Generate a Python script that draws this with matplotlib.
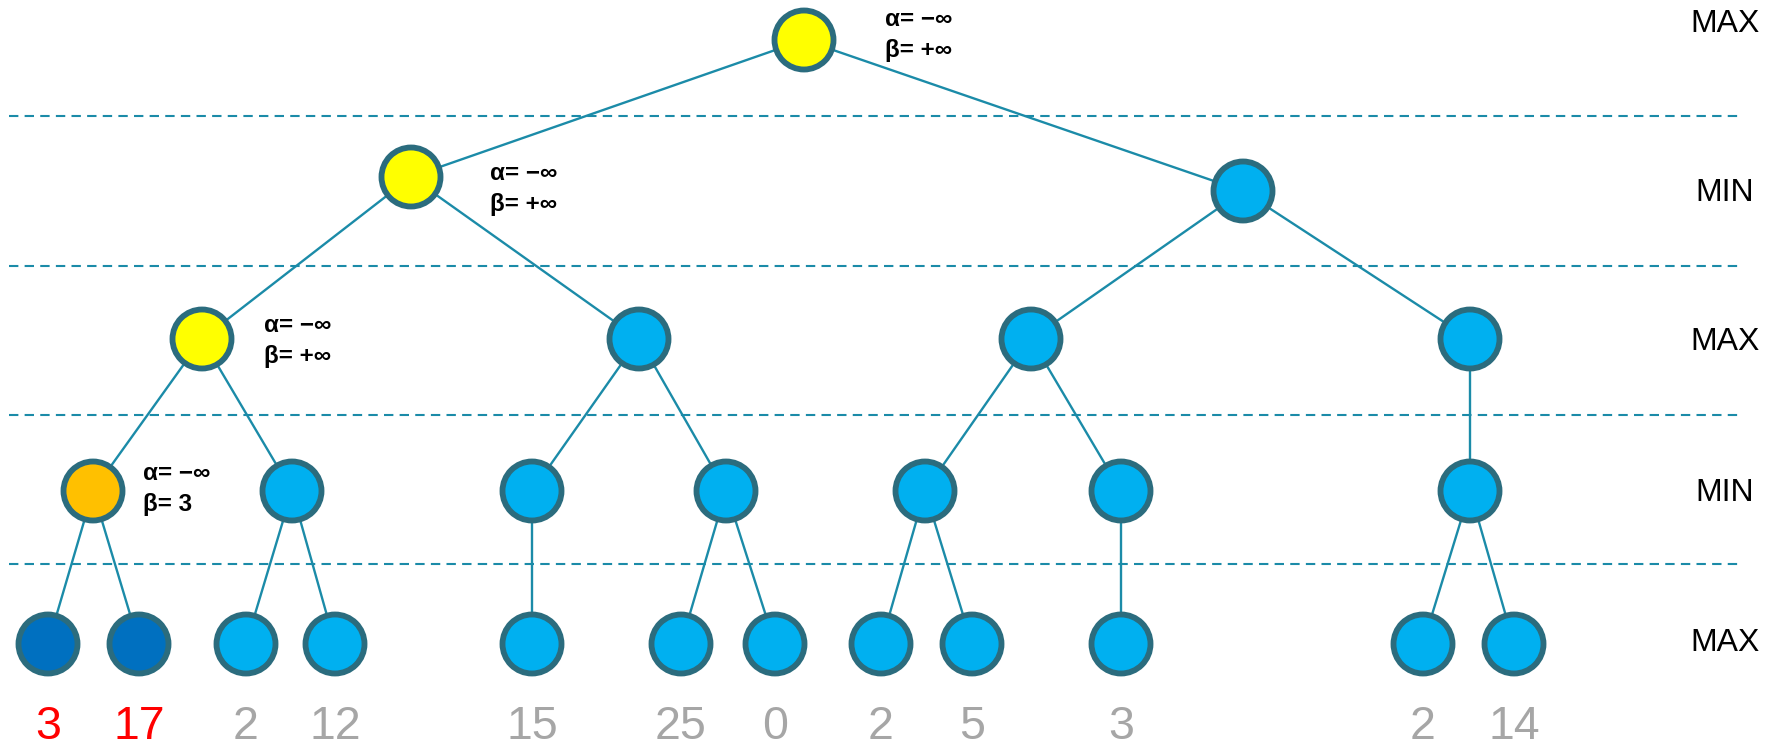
import matplotlib.pyplot as plt
from matplotlib.patches import Circle

plt.rcParams['font.family'] = ['Liberation Sans', 'DejaVu Sans']

## tree data: levels, node kinds, leaf values
level_labels = ['MAX', 'MIN', 'MAX', 'MIN', 'MAX']
leaf_values = [3, 17, 2, 12, 15, 25, 0, 2, 5, 3, 2, 14]
leaf_colors = ['red', 'red'] + ['gray'] * 10
# parent index (within previous level) for each node of a level
parents = [
    [],
    [0, 0],
    [0, 0, 1, 1],
    [0, 0, 1, 1, 2, 2, 3],
    [0, 0, 1, 1, 2, 3, 3, 4, 4, 5, 6, 6],
]
# node state per level: y = yellow (visited), o = orange, b = blue, d = dark blue
states = [
    ['y'],
    ['y', 'b'],
    ['y', 'b', 'b', 'b'],
    ['o', 'b', 'b', 'b', 'b', 'b', 'b'],
    ['d', 'd', 'b', 'b', 'b', 'b', 'b', 'b', 'b', 'b', 'b', 'b'],
]
# alpha/beta annotations: (level, index, alpha, beta)
ab_notes = [(0, 0, '−∞', '+∞'), (1, 0, '−∞', '+∞'), (2, 0, '−∞', '+∞'), (3, 0, '−∞', '3')]

## layout (pixels)
xs = [
    [804],
    [411, 1243],
    [202, 639, 1031, 1470],
    [93, 292, 532, 726, 925, 1121, 1470],
    [48, 139, 246, 335, 532, 681, 775, 881, 972, 1121, 1423, 1514],
]
ys = [[40], [177, 191], [339] * 4, [491] * 7, [644] * 12]
sep_y = [116, 266, 415, 564]
label_y = [24, 193, 342, 493, 643]
# text position of each note: x, y of alpha line, y of beta line
note_pos = [(885, 20, 51), (490, 174, 205), (264, 326, 356), (143, 474, 505)]

fill = {'y': '#FFFF00', 'o': '#FFC000', 'b': '#00B0F0', 'd': '#0070C0'}
edge_col = '#2B6C7E'
line_col = '#1B8BA8'
num_col = {'red': '#FF0000', 'gray': '#A6A6A6'}

fig = plt.figure(figsize=(17.76, 7.51), dpi=100)
ax = fig.add_axes([0, 0, 1, 1])
ax.set_xlim(0, 1776)
ax.set_ylim(751, 0)
ax.axis('off')

for y in sep_y:
    ax.plot([9, 1740], [y, y], color=line_col, lw=1.5, ls=(0, (4.5, 3)), zorder=1)

for lvl in range(1, len(xs)):
    for i, p in enumerate(parents[lvl]):
        ax.plot([xs[lvl - 1][p], xs[lvl][i]], [ys[lvl - 1][p], ys[lvl][i]],
                color=line_col, lw=1.7, zorder=2)

for lvl in range(len(xs)):
    for i in range(len(xs[lvl])):
        ax.add_patch(Circle((xs[lvl][i], ys[lvl][i]), 29.5, facecolor=fill[states[lvl][i]],
                            edgecolor=edge_col, lw=4.2, zorder=3))

for (lvl, i, a, b), (x, ya, yb) in zip(ab_notes, note_pos):
    ax.text(x, ya, 'α= ' + a, fontsize=17.5, fontweight='bold', ha='left', va='center')
    ax.text(x, yb, 'β= ' + b, fontsize=17.5, fontweight='bold', ha='left', va='center')

for x, v, c in zip(xs[-1], leaf_values, leaf_colors):
    ax.text(x, 749, str(v), fontsize=33.5, color=num_col[c], ha='center', va='bottom')

for y, t in zip(label_y, level_labels):
    ax.text(1725, y, t, fontsize=23, ha='center', va='center')

fig.savefig('out.png', dpi=100)
